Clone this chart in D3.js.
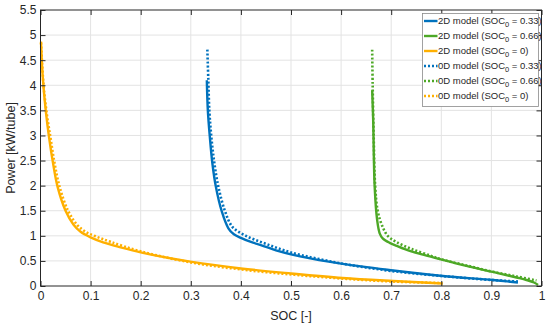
<!DOCTYPE html>
<html><head><meta charset="utf-8">
<script src="https://cdn.jsdelivr.net/npm/d3@7"></script>
<style>
html,body{margin:0;padding:0;background:#fff;}
text{font-family:"Liberation Sans",Arial,sans-serif;}
</style></head>
<body><svg id="c" width="550" height="326"></svg>
<script>
// ---- data ----
const xTicks = [0,0.1,0.2,0.3,0.4,0.5,0.6,0.7,0.8,0.9,1];
const yTicks = [0,0.5,1,1.5,2,2.5,3,3.5,4,4.5,5,5.5];
const xTickLabels = ["0","0.1","0.2","0.3","0.4","0.5","0.6","0.7","0.8","0.9","1"];
const yTickLabels = ["0","0.5","1","1.5","2","2.5","3","3.5","4","4.5","5","5.5"];

const blue2D = [[0.332,4.10],[0.334,3.5],[0.338,2.97],[0.343,2.45],[0.350,1.98],[0.362,1.48],[0.375,1.15],[0.386,1.03],[0.40,0.96],[0.42,0.88],[0.45,0.78],[0.47,0.71],[0.518,0.59],[0.603,0.44],[0.704,0.31],[0.803,0.20],[0.903,0.12],[0.953,0.07]];
const green2D = [[0.662,3.90],[0.664,3.31],[0.667,1.98],[0.672,1.31],[0.677,1.05],[0.683,0.95],[0.697,0.86],[0.711,0.80],[0.737,0.70],[0.777,0.59],[0.803,0.52],[0.85,0.40],[0.903,0.28],[0.95,0.17],[0.97,0.12],[0.985,0.07],[0.993,0.02]];
const orange2D = [[0.001,4.87],[0.003,4.4],[0.006,3.97],[0.011,3.45],[0.017,2.97],[0.025,2.45],[0.034,1.98],[0.05,1.5],[0.066,1.22],[0.08,1.08],[0.10,0.97],[0.125,0.87],[0.16,0.77],[0.20,0.67],[0.302,0.48],[0.40,0.35],[0.50,0.25],[0.603,0.16],[0.704,0.10],[0.803,0.05]];
const blue0D = [[0.333,4.71],[0.335,4.1],[0.337,3.5],[0.341,2.97],[0.347,2.45],[0.355,1.98],[0.368,1.5],[0.383,1.18],[0.41,1.0],[0.45,0.84],[0.5,0.67],[0.6,0.45],[0.7,0.30],[0.8,0.20],[0.9,0.12],[0.953,0.09]];
const green0D = [[0.662,4.71],[0.663,4.0],[0.665,3.0],[0.668,2.0],[0.673,1.5],[0.682,1.2],[0.693,1.0],[0.71,0.88],[0.74,0.74],[0.78,0.60],[0.8,0.53],[0.85,0.41],[0.9,0.29],[0.95,0.19],[0.99,0.11]];
const orange0D = [[0.001,4.85],[0.004,4.3],[0.007,3.9],[0.013,3.4],[0.02,2.95],[0.028,2.45],[0.038,1.98],[0.055,1.5],[0.073,1.22],[0.09,1.08],[0.11,0.99],[0.14,0.88],[0.2,0.69],[0.3,0.47],[0.4,0.33],[0.5,0.23],[0.6,0.15],[0.7,0.09],[0.8,0.06]];

const seriesNames = ["2D model (SOC","2D model (SOC","2D model (SOC","0D model (SOC","0D model (SOC","0D model (SOC"];
const seriesSuffix = [" = 0.33)"," = 0.66)"," = 0)"," = 0.33)"," = 0.66)"," = 0)"];
const seriesData = [blue2D, green2D, orange2D, blue0D, green0D, orange0D];
const seriesColors = ["#0072BD","#4DA826","#FFB000","#0072BD","#4DA826","#FFB000"];
const seriesDashed = [false,false,false,true,true,true];

// ---- layout ----
const L=40.5, R=541.5, T=10, B=286;
const x = d3.scaleLinear().domain([0,1]).range([L,R]);
const y = d3.scaleLinear().domain([0,5.5]).range([B,T]);
const svg = d3.select("#c");
const ink = "#262626";

// grid
svg.append("g").selectAll("line").data(xTicks.slice(1,-1)).join("line")
  .attr("x1",d=>x(d)).attr("x2",d=>x(d)).attr("y1",T).attr("y2",B)
  .attr("stroke","#e3e3e3").attr("stroke-width",1);
svg.append("g").selectAll("line").data(yTicks.slice(1,-1)).join("line")
  .attr("y1",d=>y(d)).attr("y2",d=>y(d)).attr("x1",L).attr("x2",R)
  .attr("stroke","#e3e3e3").attr("stroke-width",1);

// series
const line = d3.line().x(d=>x(d[0])).y(d=>y(d[1])).curve(d3.curveCatmullRom.alpha(0.5));
seriesData.forEach((s,i)=>{
  svg.append("path").attr("d",line(s)).attr("fill","none")
    .attr("stroke",seriesColors[i]).attr("stroke-width",seriesDashed[i]?2.6:2.4)
    .attr("stroke-dasharray",seriesDashed[i]?"2,2":null);
});

// axes
function styleAxis(g){
  g.select(".domain").attr("stroke",ink).attr("stroke-width",1);
  g.selectAll(".tick line").attr("stroke",ink);
  g.selectAll("text").attr("fill",ink).attr("font-size",12);
}
svg.append("g").attr("transform",`translate(0,${B})`)
  .call(d3.axisBottom(x).tickValues(xTicks).tickFormat((d,i)=>xTickLabels[i]).tickSizeInner(-5).tickSizeOuter(0).tickPadding(5))
  .call(styleAxis).call(g=>g.select(".domain").remove());
svg.append("g").attr("transform",`translate(0,${T})`)
  .call(d3.axisTop(x).tickValues(xTicks).tickFormat("").tickSizeInner(-5).tickSizeOuter(0))
  .call(styleAxis).call(g=>g.select(".domain").remove());
svg.append("g").attr("transform",`translate(${L},0)`)
  .call(d3.axisLeft(y).tickValues(yTicks).tickFormat((d,i)=>yTickLabels[i]).tickSizeInner(-5).tickSizeOuter(0).tickPadding(4))
  .call(styleAxis).call(g=>g.select(".domain").remove());
svg.append("g").attr("transform",`translate(${R},0)`)
  .call(d3.axisRight(y).tickValues(yTicks).tickFormat("").tickSizeInner(-5).tickSizeOuter(0))
  .call(styleAxis).call(g=>g.select(".domain").remove());
svg.append("rect").attr("x",L).attr("y",T).attr("width",R-L).attr("height",B-T)
  .attr("fill","none").attr("stroke",ink).attr("stroke-width",1);

// labels
svg.append("text").attr("x",(L+R)/2).attr("y",320).attr("text-anchor","middle")
  .attr("font-size",12.5).attr("fill",ink).text("SOC [-]");
svg.append("text").attr("transform",`translate(15,${(T+B)/2}) rotate(-90)`).attr("text-anchor","middle")
  .attr("font-size",12.5).attr("fill",ink).text("Power [kW/tube]");

// legend
const lg = svg.append("g");
lg.append("rect").attr("x",422.5).attr("y",13.5).attr("width",116).attr("height",93)
  .attr("fill","#fff").attr("stroke","#8a8a8a").attr("stroke-width",0.8);
seriesNames.forEach((n,i)=>{
  const yy = 21 + i*15;
  lg.append("line").attr("x1",424).attr("x2",437.5).attr("y1",yy).attr("y2",yy)
    .attr("stroke",seriesColors[i]).attr("stroke-width",2.4)
    .attr("stroke-dasharray",seriesDashed[i]?"2,2":null);
  const t = lg.append("text").attr("x",438).attr("y",yy+3.4).attr("font-size",9.5).attr("fill",ink);
  t.append("tspan").text(n);
  t.append("tspan").attr("font-size",7.5).attr("dy",3).text("0");
  t.append("tspan").attr("dy",-3).text(seriesSuffix[i]);
});
</script></body></html>
